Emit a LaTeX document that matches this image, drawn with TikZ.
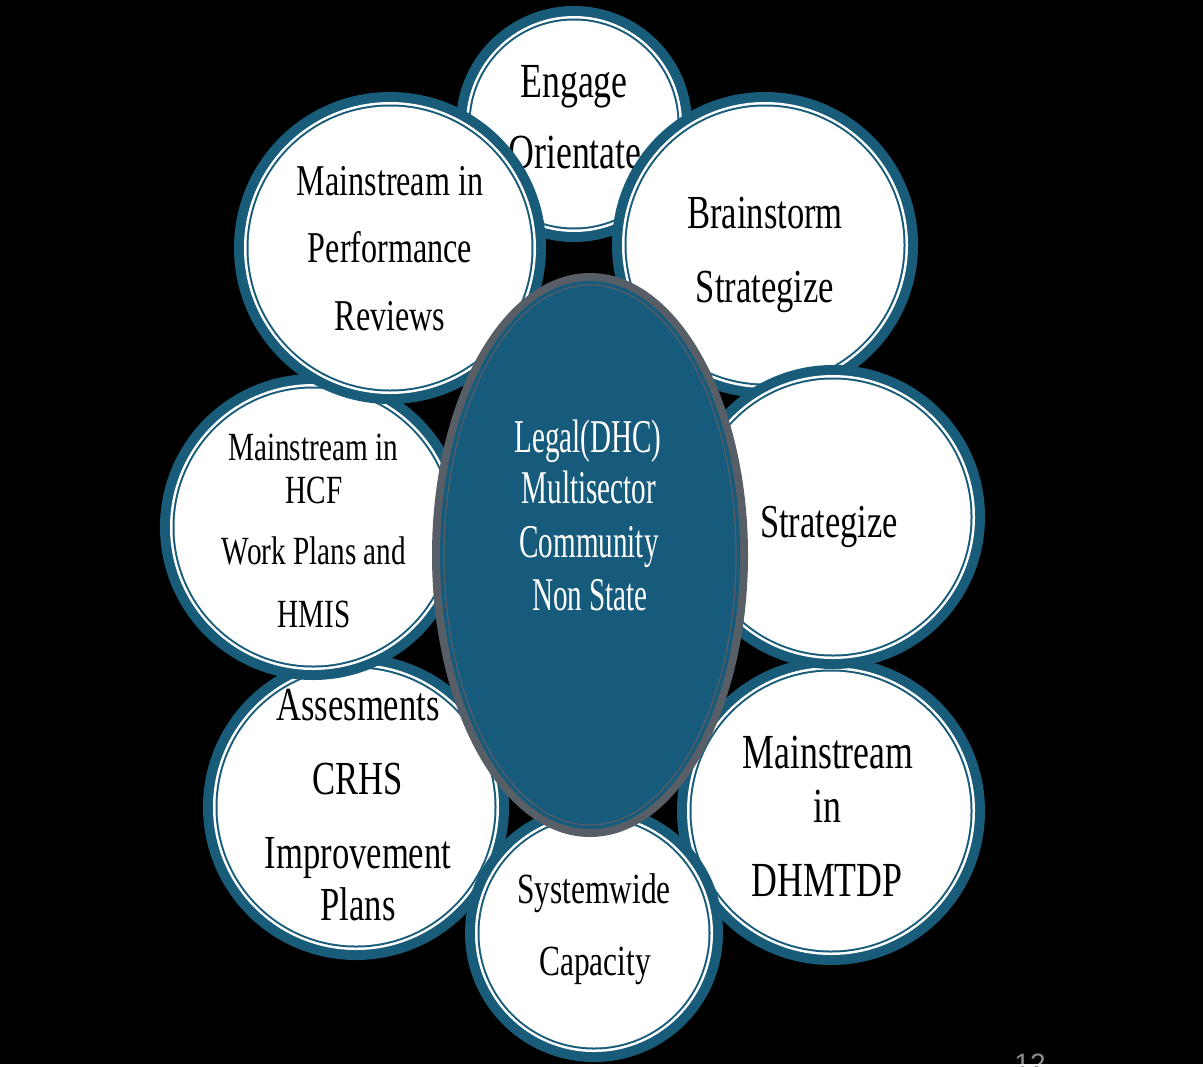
\documentclass[tikz,border=0pt]{standalone}
\usepackage{fontspec}
\setmainfont{Liberation Serif}
\newfontfamily\cf[FakeStretch=0.73]{Liberation Serif}
\newfontfamily\cc[FakeStretch=0.62]{Liberation Serif}
\newfontfamily\pn{Liberation Sans}
\definecolor{tealc}{RGB}{24,92,122}
\definecolor{ellfill}{RGB}{22,90,124}
\definecolor{ellgray}{RGB}{88,94,102}
\definecolor{pgnum}{RGB}{140,140,140}
\newcommand\bubble[3]{%
  \fill[tealc] (#1,#2) circle[radius=#3*0.5pt];
  \fill[white] (#1,#2) circle[radius=(#3-10)*0.5pt];
  \fill[tealc] (#1,#2) circle[radius=(#3-12.5)*0.5pt];
  \fill[white] (#1,#2) circle[radius=(#3-14.5)*0.5pt];}
\tikzset{
  ln/.style={anchor=base, inner sep=0pt, outer sep=0pt, text=black},
  cn/.style={anchor=base, inner sep=0pt, outer sep=0pt, text=white,
             font=\cc\fontsize{23.5}{28}\selectfont}
}
\begin{document}
\begin{tikzpicture}[x=0.5pt,y=-0.5pt]
\useasboundingbox (0,0) rectangle (1203,1066);
\clip (0,0) rectangle (1203,1066);
\fill[black] (0,0) rectangle (1203,1066);

% Engage / Orientate
\bubble{574}{124}{118}
\begin{scope}[every node/.style={ln, font=\cf\fontsize{24.5}{29}\selectfont}]
\node (eng1) at (574,97) {Engage};
\node (eng2) at (575,168) {Orientate};
\end{scope}

% Brainstorm / Strategize
\bubble{765}{245}{153}
\begin{scope}[every node/.style={ln, font=\cf\fontsize{23.7}{28}\selectfont}]
\node (brn1) at (765,228) {Brainstorm};
\node (brn2) at (765,302) {Strategize};
\end{scope}

% Mainstream in DHMTDP
\bubble{831}{811}{154}
\begin{scope}[every node/.style={ln, font=\cf\fontsize{24.5}{29}\selectfont}]
\node (dhm1) at (828,768) {Mainstream};
\node (dhm2) at (827,822) {in};
\node (dhm3) at (827,896) {DHMTDP};
\end{scope}

% Strategize
\bubble{833}{517}{152}
\node[ln, font=\cf\fontsize{23.6}{28}\selectfont] (str1) at (829,537) {Strategize};

% Assessments
\bubble{356}{807}{153}
\begin{scope}[every node/.style={ln, font=\cf\fontsize{23.7}{28}\selectfont}]
\node (ass1) at (358,720) {Assesments};
\node (ass2) at (358,794) {CRHS};
\node (ass3) at (358,868) {Improvement};
\node (ass4) at (358,920) {Plans};
\end{scope}

% Systemwide Capacity
\bubble{594}{933}{129}
\begin{scope}[every node/.style={ln, font=\cf\fontsize{21.5}{26}\selectfont}]
\node (sys1) at (594,903) {Systemwide};
\node (sys2) at (595,975) {Capacity};
\end{scope}

% Mainstream in HCF
\bubble{313}{527}{153}
\begin{scope}[every node/.style={ln, font=\cf\fontsize{20}{24}\selectfont}]
\node (hcf1) at (313,460) {Mainstream in};
\node (hcf2) at (314,503) {HCF};
\node (hcf3) at (314,564) {Work Plans and};
\node (hcf4) at (314,627) {HMIS};
\end{scope}

% Mainstream in Performance Reviews
\bubble{390}{248}{156}
\begin{scope}[every node/.style={ln, font=\cf\fontsize{22}{26}\selectfont}]
\node (prf1) at (390,195) {Mainstream in};
\node (prf2) at (390,262) {Performance};
\node (prf3) at (390,330) {Reviews};
\end{scope}

% central ellipse
\fill[ellgray] (590,555) ellipse[x radius=158*0.5pt, y radius=282*0.5pt];
\fill[ellfill] (590,555) ellipse[x radius=150*0.5pt, y radius=274*0.5pt];
\draw[ellgray, line width=0.6pt] (590,555) ellipse[x radius=146*0.5pt, y radius=270*0.5pt];
\node[cn] (cen1) at (588,452) {Legal(DHC)};
\node[cn] (cen2) at (589,503) {Multisector};
\node[cn] (cen3) at (589,557) {Community};
\node[cn] (cen4) at (590,610) {Non State};

% page number (cut off at bottom)
\node[anchor=base, inner sep=0pt, text=pgnum, font=\pn\fontsize{14}{16}\selectfont] (pg) at (1030,1073) {12};
\fill[white] (0,1064) rectangle (1203,1066);
\end{tikzpicture}
\end{document}
